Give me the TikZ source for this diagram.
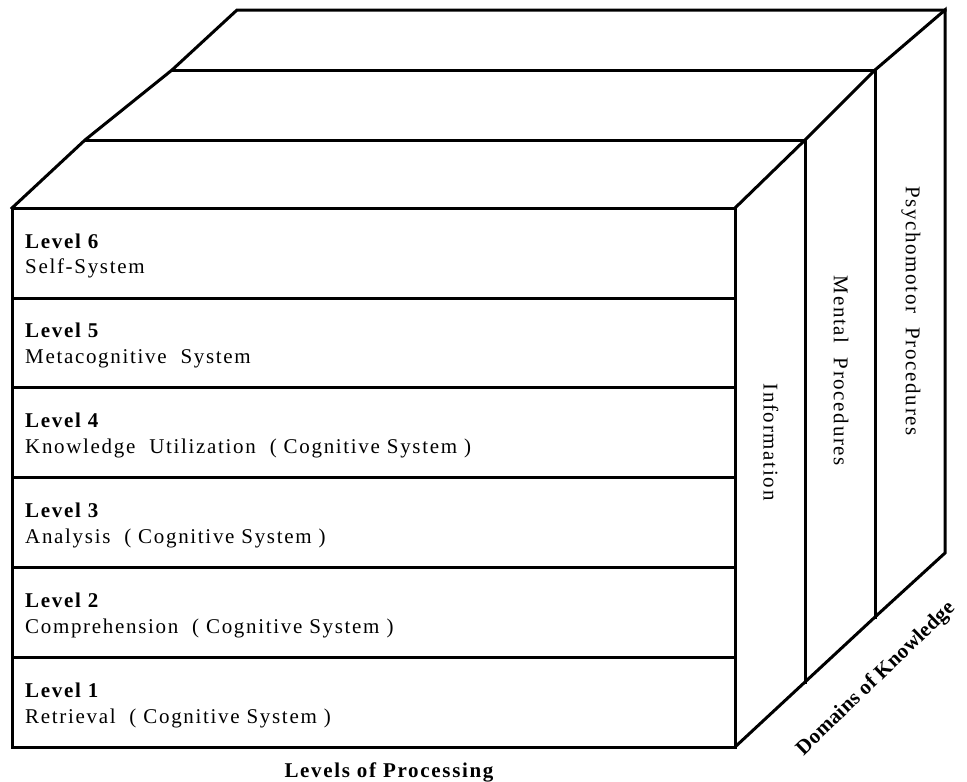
\documentclass[tikz,border=0pt]{standalone}
\usepackage{fontspec}
\setmainfont{Liberation Serif}[LetterSpace=8]
\newfontfamily\tightbold{Liberation Serif}[LetterSpace=1]
\begin{document}
\begin{tikzpicture}[x=1pt,y=-1pt,
  edge/.style={line width=3pt,line join=miter,line cap=rect},
  lvl/.style={anchor=base west,inner sep=0pt,font=\fontsize{21}{21}\selectfont\bfseries},
  desc/.style={anchor=base west,inner sep=0pt,font=\fontsize{21}{21}\selectfont},
  side/.style={rotate=-90,inner sep=0pt,font=\fontsize{21}{21}\selectfont},
  axis/.style={inner sep=0pt,font=\fontsize{21}{21}\selectfont\bfseries}]
\useasboundingbox (0,0) rectangle (967,782);
% corner coordinates
\coordinate (fTL) at (12,208);
\coordinate (fTR) at (735,208);
\coordinate (fBR) at (735,747);
\coordinate (fBL) at (12,747);
\coordinate (aTL) at (85,140);
\coordinate (aTR) at (805,140);
\coordinate (aBR) at (805,682);
\coordinate (bTL) at (172,70);
\coordinate (bTR) at (875,70);
\coordinate (bBR) at (875,617);
\coordinate (cTL) at (237,10);
\coordinate (cTR) at (945,10);
\coordinate (cBR) at (945,553);
% front face
\draw[edge] (fTL) rectangle (fBR);
\foreach \y in {298,387,477,567,657} \draw[edge] (12,\y) -- (735,\y);
% top faces
\draw[edge] (fTL) -- (aTL) -- (bTL) -- (cTL) -- (cTR);
\draw[edge] (aTL) -- (aTR);
\draw[edge] (bTL) -- (bTR);
% right faces
\draw[edge] (fTR) -- (aTR) -- (bTR) -- (cTR) -- (cBR) -- (bBR) -- (aBR) -- (fBR);
\draw[edge] (aTR) -- (aBR);
\draw[edge] (bTR) -- (bBR);
% level texts
\node[lvl] (l6) at (25,248) {Level 6};
\node[desc] (d6) at (25,273) {Self-System};
\node[lvl] (l5) at (25,337) {Level 5};
\node[desc] (d5) at (25,363) {Metacognitive\ \ System};
\node[lvl] (l4) at (25,427) {Level 4};
\node[desc] (d4) at (25,453) {Knowledge\ \ Utilization\ \ ( Cognitive System )};
\node[lvl] (l3) at (25,517) {Level 3};
\node[desc] (d3) at (25,543) {Analysis\ \ ( Cognitive System )};
\node[lvl] (l2) at (25,607) {Level 2};
\node[desc] (d2) at (25,633) {Comprehension\ \ ( Cognitive System )};
\node[lvl] (l1) at (25,697) {Level 1};
\node[desc] (d1) at (25,723) {Retrieval\ \ ( Cognitive System )};
% side labels
\node[side] (inf) at (771,442) {Information};
\node[side] (men) at (841,371) {Mental\ \ Procedures};
\node[side] (psy) at (911,311) {Psychomotor\ \ Procedures};
% axis labels
\node[axis,anchor=base] (lop) at (389,777) {Levels of Processing};
\node[inner sep=0pt,rotate=44,font=\tightbold\fontsize{21}{21}\selectfont\bfseries] (dok) at (876,679) {Domains of Knowledge};
\end{tikzpicture}
\end{document}
